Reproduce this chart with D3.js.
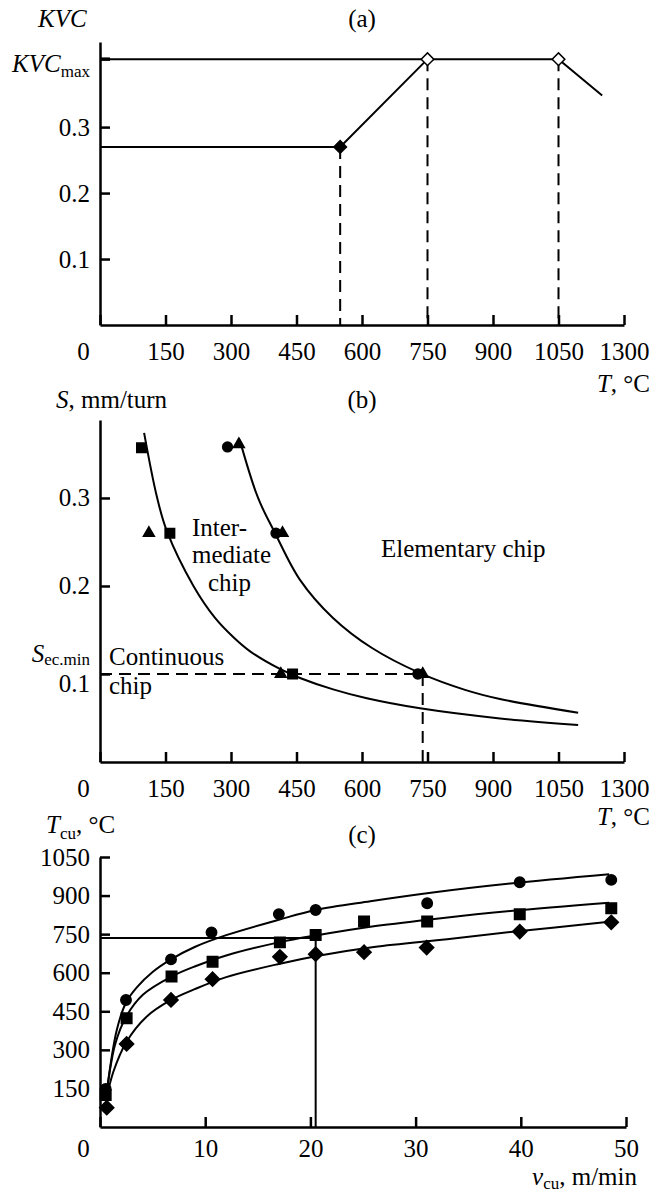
<!DOCTYPE html>
<html>
<head>
<meta charset="utf-8">
<script src="https://d3js.org/d3.v7.min.js"></script>
<style>
  body { margin: 0; background: #fff; }
  svg text { font-family: "Liberation Serif", "DejaVu Serif", "Times New Roman", serif; font-size: 25px; fill: #000; }
  .it { font-style: italic; }
</style>
</head>
<body>
<script>
// ---- (a) KVC vs temperature
var kvcT = [0, 550, 750, 1050, 1150];
var kvcV = [0.27, 0.27, 0.403, 0.403, 0.348];
var kvcMax = 0.403;
var kvcPtT = [550, 750, 1050];
var kvcPtV = [0.27, 0.403, 0.403];
var kvcPtFilled = [true, false, false];
var kvcTicks = [0.1, 0.2, 0.3];

// shared temperature axis of (a) and (b); last tick is labelled 1300
var tTicks = [0, 150, 300, 450, 600, 750, 900, 1050, 1200];
var tTickLabels = ["0", "150", "300", "450", "600", "750", "900", "1050", "1300"];

// ---- (b) feed vs temperature, chip types
var sqT = [95, 160, 441],  sqS = [0.357, 0.26, 0.1];
var ciT = [292, 403, 728], ciS = [0.358, 0.26, 0.1];
var trT = [318, 112, 418, 414, 739], trS = [0.361, 0.26, 0.26, 0.1, 0.1];
var curve1T = [101, 130, 153, 214, 263, 305, 343, 412, 458, 534, 611, 733, 916, 1095];
var curve1S = [0.374, 0.302, 0.2625, 0.200, 0.164, 0.142, 0.126, 0.1057, 0.0955, 0.0825, 0.0724, 0.061, 0.0495, 0.042];
var curve2T = [320, 362, 401, 458, 533, 623, 733, 836, 916, 1095];
var curve2S = [0.366, 0.300, 0.260, 0.207, 0.164, 0.1295, 0.101, 0.082, 0.0716, 0.056];
var sEcMin = 0.1, tEcMin = 739;
var sTicks = [0.1, 0.2, 0.3];

// ---- (c) cutting temperature vs speed
var vCircle = [0.54, 2.47, 6.75, 10.6, 17.0, 20.5, 31.1, 39.9, 48.6];
var tCircle = [148, 494, 652, 757, 828, 844, 870, 952, 961];
var vSquare = [0.54, 2.53, 6.8, 10.7, 17.1, 20.5, 25.1, 31.1, 39.9, 48.6];
var tSquare = [124, 423, 585, 643, 718, 747, 799, 799, 827, 851];
var vDiamond = [0.64, 2.53, 6.75, 10.7, 17.1, 20.5, 25.1, 31.05, 39.9, 48.6];
var tDiamond = [75, 323, 494, 575, 662, 672, 680, 698, 760, 796];
var fitCircleV = [0.62, 1.6, 2.5, 3.5, 5, 6.75, 9, 12, 17, 20.5, 25.7, 32, 39, 48.4];
var fitCircleT = [130, 378, 486, 543, 603, 652, 700, 746, 806, 844, 878, 914, 947, 983];
var fitSquareV = [0.6, 1.43, 2.5, 4.1, 6.8, 9, 12, 17.1, 20.5, 25.7, 32, 39, 48.4];
var fitSquareT = [120, 320, 430, 515, 585, 624, 667, 719, 745, 779, 810, 840, 872];
var fitDiamondV = [0.6, 1.27, 2.5, 4.4, 6.75, 9, 12, 17.1, 20.9, 25.7, 32, 39, 48.4];
var fitDiamondT = [108, 215, 330, 428, 494, 536, 583, 635, 667, 698, 726, 758, 798];
var refV = 20.5, refT = 735;
var vTicks = [0, 10, 20, 30, 40, 50];
var tcTicks = [150, 300, 450, 600, 750, 900, 1050];

var svg = d3.select("body").append("svg").attr("width", 652).attr("height", 1196);

var zip = function(a, b) { return a.map(function(d, i) { return [d, b[i]]; }); };

// axes helper: ticks point inward, origin "0" sits left of the corner
function axes(x, y, xT, xLab, yT, baseY, pad) {
  var gx = svg.append("g").attr("transform", "translate(0," + baseY + ")")
    .call(d3.axisBottom(x).tickValues(xT).tickFormat(function(d, i) { return xLab[i]; })
      .tickSizeInner(-10).tickSizeOuter(0).tickPadding(pad));
  gx.selectAll("text").filter(function(d) { return d === 0; }).attr("x", -17);
  var gy = svg.append("g").attr("transform", "translate(" + x.range()[0] + ",0)")
    .call(d3.axisLeft(y).tickValues(yT).tickFormat(String)
      .tickSizeInner(-10).tickSizeOuter(0).tickPadding(10));
  [gx, gy].forEach(function(g) {
    g.attr("font-size", null).attr("font-family", null);
    g.selectAll("path, line").attr("stroke", "#000").attr("stroke-width", 2.5);
  });
  return gy;
}

function marks(shape, pts, x, y, size, fill, rot) {
  svg.append("g").selectAll("path").data(pts).enter().append("path")
    .attr("d", d3.symbol().type(shape).size(size))
    .attr("transform", function(d) { return "translate(" + x(d[0]) + "," + y(d[1]) + ")" + (rot ? " rotate(45)" : ""); })
    .attr("fill", fill).attr("stroke", "#000").attr("stroke-width", 1.5);
}

function path(pts, x, y, curve, dash) {
  svg.append("path").datum(pts)
    .attr("d", d3.line().x(function(d) { return x(d[0]); }).y(function(d) { return y(d[1]); }).curve(curve))
    .attr("fill", "none").attr("stroke", "#000").attr("stroke-width", 2)
    .attr("stroke-dasharray", dash || null);
}

// ================= (a)
var xA = d3.scaleLinear().domain([0, 1200]).range([100, 624]);
var yA = d3.scaleLinear().domain([0, 0.429]).range([325, 42]);
axes(xA, yA, tTicks, tTickLabels, kvcTicks, 325, 17);
svg.append("line").attr("x1", xA(0)).attr("x2", xA(0) + 10)
  .attr("y1", yA(kvcMax)).attr("y2", yA(kvcMax)).attr("stroke", "#000").attr("stroke-width", 3.5);
path([[0, kvcMax], [750, kvcMax]], xA, yA, d3.curveLinear);
path(zip(kvcT, kvcV), xA, yA, d3.curveLinear);
kvcPtT.forEach(function(t, i) {
  path([[t, kvcPtV[i]], [t, 0]], xA, yA, d3.curveLinear, "12,7");
});
kvcPtT.forEach(function(t, i) {
  marks(d3.symbolSquare, [[t, kvcPtV[i]]], xA, yA, 80, kvcPtFilled[i] ? "#000" : "#fff", true);
});
svg.append("text").attr("class", "it").attr("x", 38).attr("y", 27).text("KVC");
svg.append("text").attr("x", 362).attr("y", 27).attr("text-anchor", "middle").text("(a)");
var km = svg.append("text").attr("x", 90).attr("y", yA(kvcMax) + 13).attr("text-anchor", "end");
km.append("tspan").attr("class", "it").text("KVC");
km.append("tspan").attr("dy", 5).style("font-size", "17px").text("max");
var ta = svg.append("text").attr("x", 650).attr("y", 392).attr("text-anchor", "end");
ta.append("tspan").attr("class", "it").text("T");
ta.append("tspan").text(", °C");

// ================= (b)
var yB = d3.scaleLinear().domain([0, 0.3886]).range([762, 420]);
var gyB = axes(xA, yB, tTicks, tTickLabels, sTicks, 762, 17);
gyB.selectAll("text").filter(function(d) { return d === 0.1; }).attr("dy", "0.72em");
path([[0, sEcMin], [tEcMin, sEcMin]], xA, yB, d3.curveLinear, "12,7");
path([[tEcMin, sEcMin], [tEcMin, 0]], xA, yB, d3.curveLinear, "12,7");
path(zip(curve1T, curve1S), xA, yB, d3.curveCatmullRom);
path(zip(curve2T, curve2S), xA, yB, d3.curveCatmullRom);
marks(d3.symbolSquare, zip(sqT, sqS), xA, yB, 90, "#000");
marks(d3.symbolCircle, zip(ciT, ciS), xA, yB, 75, "#000");
marks(d3.symbolTriangle, zip(trT, trS), xA, yB, 52, "#000");
var sl = svg.append("text").attr("x", 56).attr("y", 408);
sl.append("tspan").attr("class", "it").text("S");
sl.append("tspan").text(", mm/turn");
svg.append("text").attr("x", 362).attr("y", 408).attr("text-anchor", "middle").text("(b)");
var se = svg.append("text").attr("x", 90).attr("y", 662).attr("text-anchor", "end");
se.append("tspan").attr("class", "it").text("S");
se.append("tspan").attr("dy", 3).style("font-size", "17px").text("ec.min");
svg.append("text").attr("x", 192).attr("y", 536).text("Inter-");
svg.append("text").attr("x", 192).attr("y", 563).text("mediate");
svg.append("text").attr("x", 208).attr("y", 591).text("chip");
svg.append("text").attr("x", 381).attr("y", 557).text("Elementary chip");
svg.append("text").attr("x", 109).attr("y", 665).text("Continuous");
svg.append("text").attr("x", 109).attr("y", 694).text("chip");
var tb = svg.append("text").attr("x", 650).attr("y", 825).attr("text-anchor", "end");
tb.append("tspan").attr("class", "it").text("T");
tb.append("tspan").text(", °C");

// ================= (c)
var xC = d3.scaleLinear().domain([0, 50]).range([100, 626]);
var yC = d3.scaleLinear().domain([0, 1050]).range([1127, 857]);
axes(xC, yC, vTicks, vTicks.map(String), tcTicks, 1127, 12);
path([[0, refT], [refV, refT]], xC, yC, d3.curveLinear);
path([[refV, refT], [refV, 0]], xC, yC, d3.curveLinear);
path(zip(fitCircleV, fitCircleT), xC, yC, d3.curveCatmullRom);
path(zip(fitSquareV, fitSquareT), xC, yC, d3.curveCatmullRom);
path(zip(fitDiamondV, fitDiamondT), xC, yC, d3.curveCatmullRom);
marks(d3.symbolCircle, zip(vCircle, tCircle), xC, yC, 85, "#000");
marks(d3.symbolSquare, zip(vSquare, tSquare), xC, yC, 110, "#000");
marks(d3.symbolSquare, zip(vDiamond, tDiamond), xC, yC, 100, "#000", true);
var tc = svg.append("text").attr("x", 46).attr("y", 833);
tc.append("tspan").attr("class", "it").text("T");
tc.append("tspan").attr("dy", 6).style("font-size", "17px").text("cu");
tc.append("tspan").attr("dy", -6).text(", °C");
svg.append("text").attr("x", 362).attr("y", 843).attr("text-anchor", "middle").text("(c)");
var vc = svg.append("text").attr("x", 637).attr("y", 1185).attr("text-anchor", "end");
vc.append("tspan").attr("class", "it").text("v");
vc.append("tspan").attr("dy", 4).style("font-size", "17px").text("cu");
vc.append("tspan").attr("dy", -4).text(", m/min");
</script>
</body>
</html>
